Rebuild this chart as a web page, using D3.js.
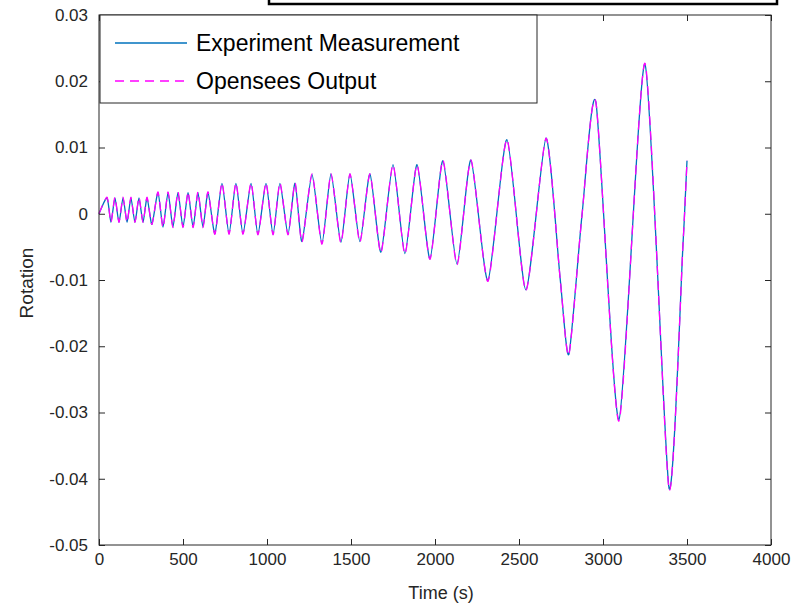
<!DOCTYPE html>
<html>
<head>
<meta charset="utf-8">
<script src="https://cdn.jsdelivr.net/npm/d3@7"></script>
<style>
  html, body { margin: 0; padding: 0; background: #fff; }
  svg { display: block; font-family: "Liberation Sans", Arial, Helvetica, sans-serif; }
</style>
</head>
<body>
<div id="chart"></div>
<script>
// Rotation vs time : experiment vs OpenSees (cyclic loading history)
// values at each peak / trough of the cycles

const timeS = [
  0, 48, 71, 95, 119, 143, 167, 190, 214, 238, 262, 286, 315,
  351, 381, 411, 440, 470, 500, 530, 560, 589, 619, 649, 690,
  732, 774, 815, 857, 905, 946, 994, 1036, 1077, 1125, 1167, 1208,
  1268, 1327, 1381, 1440, 1494, 1553, 1613, 1678,
  1750, 1821, 1893, 1970,
  2047, 2131, 2214, 2315,
  2428, 2541, 2661, 2745, 2797, 2875,
  2958, 3095, 3250, 3393, 3476, 3500
];

const experiment = [
  0, 0.0024, -0.0013, 0.0024, -0.0013, 0.0024, -0.0013, 0.0024, -0.0013, 0.0024, -0.0013, 0.0024, -0.0016,
  0.0032, -0.0020, 0.0032, -0.0020, 0.0032, -0.0020, 0.0032, -0.0020, 0.0032, -0.0020, 0.0032, -0.0030,
  0.0046, -0.0030, 0.0046, -0.0030, 0.0046, -0.0031, 0.0046, -0.0031, 0.0046, -0.0031, 0.0046, -0.0042,
  0.0059, -0.0045, 0.0060, -0.0043, 0.0060, -0.0042, 0.0060, -0.0058,
  0.0074, -0.0060, 0.0074, -0.0068,
  0.0080, -0.0076, 0.0081, -0.0101,
  0.0112, -0.0115, 0.0114, -0.0098, -0.0212, -0.0002,
  0.0168, -0.0311, 0.0226, -0.0414, -0.0047, 0.0080
];

const opensees = [
  0, 0.0025, -0.0013, 0.0025, -0.0013, 0.0025, -0.0013, 0.0025, -0.0013, 0.0025, -0.0013, 0.0025, -0.0016,
  0.0033, -0.0021, 0.0033, -0.0021, 0.0033, -0.0021, 0.0033, -0.0021, 0.0033, -0.0021, 0.0033, -0.0031,
  0.0047, -0.0031, 0.0047, -0.0031, 0.0047, -0.0032, 0.0047, -0.0032, 0.0047, -0.0032, 0.0047, -0.0043,
  0.0060, -0.0046, 0.0060, -0.0044, 0.0060, -0.0043, 0.0060, -0.0059,
  0.0074, -0.0061, 0.0074, -0.0069,
  0.0081, -0.0077, 0.0081, -0.0102,
  0.0112, -0.0116, 0.0114, -0.0098, -0.0213, -0.0002,
  0.0168, -0.0313, 0.0227, -0.0416, -0.0047, 0.0080
];

const xTicks = [0, 500, 1000, 1500, 2000, 2500, 3000, 3500, 4000];
const yTicks = [-0.05, -0.04, -0.03, -0.02, -0.01, 0, 0.01, 0.02, 0.03];
const yTickLabels = ["-0.05", "-0.04", "-0.03", "-0.02", "-0.01", "0", "0.01", "0.02", "0.03"];

const seriesNames = ["Experiment Measurement", "Opensees Output"];
const seriesColors = ["#0072BD", "#FF00FF"];

// ---------- layout ----------
const W = 793, H = 605;
const margin = { top: 15, right: 22, bottom: 60, left: 99 };
const innerW = W - margin.left - margin.right;   // 672
const innerH = H - margin.top - margin.bottom;   // 530
const axisColor = "#262626";

const svg = d3.select("#chart").append("svg")
  .attr("width", W)
  .attr("height", H);

const x = d3.scaleLinear().domain([0, 4000]).range([0, innerW]);
const y = d3.scaleLinear().domain([-0.05, 0.03]).range([innerH, 0]);

const g = svg.append("g")
  .attr("transform", `translate(${margin.left},${margin.top})`);

// box of a cut off title / annotation above the plot
svg.append("rect")
  .attr("x", 269).attr("y", -12)
  .attr("width", 508).attr("height", 16)
  .attr("fill", "none")
  .attr("stroke", "#000")
  .attr("stroke-width", 2.5);

// ---------- lines ----------
const data = timeS.map((t, i) => ({ t, exp: experiment[i], ops: opensees[i] }));

const curve = d3.curveCardinal.tension(0.35);

const lineExp = d3.line()
  .x(d => x(d.t))
  .y(d => y(d.exp))
  .curve(curve);

const lineOps = d3.line()
  .x(d => x(d.t))
  .y(d => y(d.ops))
  .curve(curve);

g.append("path")
  .datum(data)
  .attr("d", lineExp)
  .attr("fill", "none")
  .attr("stroke", seriesColors[0])
  .attr("stroke-width", 1.3);

g.append("path")
  .datum(data)
  .attr("d", lineOps)
  .attr("fill", "none")
  .attr("stroke", seriesColors[1])
  .attr("stroke-width", 1.3)
  .attr("stroke-dasharray", "9,6");

// ---------- axes (matlab style: ticks inward, box on) ----------
function styleAxis(sel) {
  sel.select(".domain").remove();
  sel.selectAll("line").attr("stroke", axisColor);
  sel.selectAll("text")
    .style("font-size", "17px")
    .style("fill", axisColor);
}

g.append("g")
  .attr("transform", `translate(0,${innerH})`)
  .call(d3.axisBottom(x).tickValues(xTicks).tickSizeInner(-6).tickSizeOuter(0).tickPadding(8)
    .tickFormat(d3.format("d")))
  .call(styleAxis);

g.append("g")
  .call(d3.axisTop(x).tickValues(xTicks).tickSizeInner(-6).tickSizeOuter(0).tickFormat(""))
  .call(styleAxis);

g.append("g")
  .call(d3.axisLeft(y).tickValues(yTicks).tickSizeInner(-6).tickSizeOuter(0).tickPadding(11)
    .tickFormat((d, i) => yTickLabels[i]))
  .call(styleAxis);

g.append("g")
  .attr("transform", `translate(${innerW},0)`)
  .call(d3.axisRight(y).tickValues(yTicks).tickSizeInner(-6).tickSizeOuter(0).tickFormat(""))
  .call(styleAxis);

g.append("rect")
  .attr("width", innerW)
  .attr("height", innerH)
  .attr("fill", "none")
  .attr("stroke", axisColor)
  .attr("stroke-width", 1);

// axis labels
svg.append("text")
  .attr("x", margin.left + innerW / 2 + 6)
  .attr("y", 599)
  .attr("text-anchor", "middle")
  .style("font-size", "18px")
  .style("fill", axisColor)
  .text("Time (s)");

svg.append("text")
  .attr("transform", `translate(33,${margin.top + innerH / 2 + 3}) rotate(-90)`)
  .attr("text-anchor", "middle")
  .style("font-size", "19px")
  .style("fill", axisColor)
  .text("Rotation");

// ---------- legend ----------
const legend = svg.append("g").attr("transform", "translate(100,15)");

legend.append("rect")
  .attr("width", 437)
  .attr("height", 88)
  .attr("fill", "#fff")
  .attr("stroke", axisColor)
  .attr("stroke-width", 1);

seriesNames.forEach((name, i) => {
  const ly = 28 + i * 38;
  legend.append("line")
    .attr("x1", 15).attr("x2", 87)
    .attr("y1", ly).attr("y2", ly)
    .attr("stroke", seriesColors[i])
    .attr("stroke-width", 1.3)
    .attr("stroke-dasharray", i === 1 ? "9,6" : null);
  legend.append("text")
    .attr("x", 96)
    .attr("y", ly + 8)
    .style("font-size", "23px")
    .style("fill", "#000")
    .text(name);
});
</script>
</body>
</html>
